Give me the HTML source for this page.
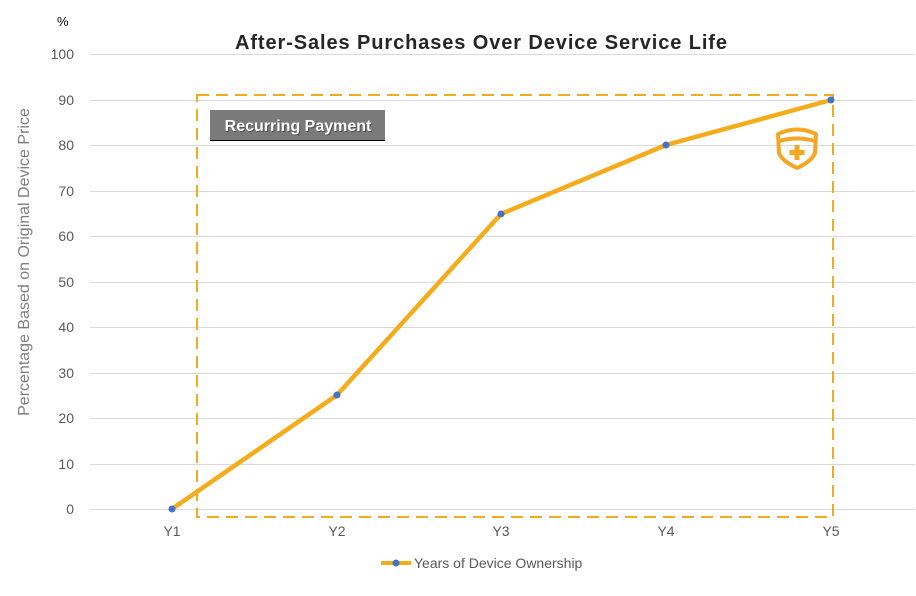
<!DOCTYPE html>
<html><head><style>body{margin:0;background:#fff}</style></head><body>
<svg width="916" height="591" xmlns="http://www.w3.org/2000/svg" font-family="Liberation Sans, sans-serif">
<rect width="916" height="591" fill="#fff"/>
<g stroke="#d9d9d9" stroke-width="1">
<line x1="90" x2="915" y1="54.5" y2="54.5"/><line x1="90" x2="915" y1="100.5" y2="100.5"/>
<line x1="90" x2="915" y1="145.5" y2="145.5"/><line x1="90" x2="915" y1="191.5" y2="191.5"/>
<line x1="90" x2="915" y1="236.5" y2="236.5"/><line x1="90" x2="915" y1="282.5" y2="282.5"/>
<line x1="90" x2="915" y1="327.5" y2="327.5"/><line x1="90" x2="915" y1="373.5" y2="373.5"/>
<line x1="90" x2="915" y1="418.5" y2="418.5"/><line x1="90" x2="915" y1="464.5" y2="464.5"/>
<line x1="90" x2="915" y1="509.5" y2="509.5"/>
</g>
<g fill="#595959" font-size="14" text-anchor="end">
<text x="74" y="59">100</text><text x="74" y="105">90</text><text x="74" y="150">80</text>
<text x="74" y="196">70</text><text x="74" y="241">60</text><text x="74" y="287">50</text>
<text x="74" y="332">40</text><text x="74" y="378">30</text><text x="74" y="423">20</text>
<text x="74" y="469">10</text><text x="74" y="514">0</text>
</g>
<text x="57" y="26" font-size="13" fill="#000">%</text>
<g fill="#595959" font-size="14" text-anchor="middle">
<text x="172" y="536">Y1</text><text x="337" y="536">Y2</text><text x="501" y="536">Y3</text>
<text x="666" y="536">Y4</text><text x="831" y="536">Y5</text>
</g>
<text transform="translate(29,262) rotate(-90)" text-anchor="middle" font-size="16" fill="#7f7f7f">Percentage Based on Original Device Price</text>
<text x="481" y="49" text-anchor="middle" font-size="20" font-weight="bold" fill="#262626" textLength="492">After-Sales Purchases Over Device Service Life</text>
<rect x="197" y="95" width="636" height="422" fill="none" stroke="#f0ab1e" stroke-width="2" stroke-dasharray="12,7"/>
<rect x="210" y="110" width="175" height="30" fill="#7a7a7a"/>
<line x1="210" x2="385" y1="140.5" y2="140.5" stroke="#000"/>
<text x="298" y="131" text-anchor="middle" font-size="16" font-weight="bold" fill="#333" opacity="0.6" dx="1" dy="1">Recurring Payment</text>
<text x="298" y="131" text-anchor="middle" font-size="16" font-weight="bold" fill="#fff">Recurring Payment</text>
<polyline points="172,509 337,395 501,214 666,145 831,100" fill="none" stroke="#f5ac1a" stroke-width="4.5" stroke-linejoin="round"/>
<g fill="#4472c4"><circle cx="172" cy="509" r="3.5"/><circle cx="337" cy="395" r="3.5"/><circle cx="501" cy="214" r="3.5"/><circle cx="666" cy="145" r="3.5"/><circle cx="831" cy="100" r="3.5"/></g>
<g fill="none" stroke="#f5a623" stroke-width="4" stroke-linejoin="round">
<path d="M778,134 Q797,125 816,134 L815,153 Q812,161 797,168 Q782,161 779,153 Z"/>
<path d="M779,141 Q797,136 815,141"/>
</g>
<path d="M794.5,145 h5 v5 h5 v5 h-5 v5 h-5 v-5 h-5 v-5 h5 Z" fill="#f5a623"/>
<line x1="381" x2="411" y1="563" y2="563" stroke="#f5ac1a" stroke-width="4"/>
<circle cx="396" cy="563" r="3.5" fill="#4472c4"/>
<text x="414" y="568" font-size="14" fill="#595959">Years of Device Ownership</text>
</svg>
</body></html>
